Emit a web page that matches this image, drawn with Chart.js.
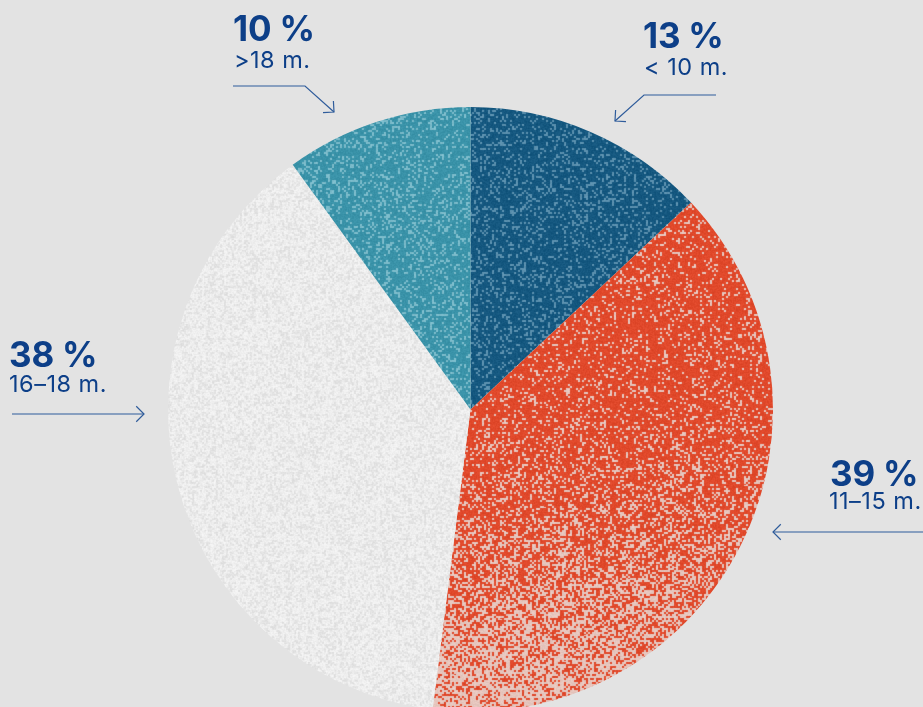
<!DOCTYPE html>
<html>
<head>
<meta charset="utf-8">
<script src="https://cdn.jsdelivr.net/npm/chart.js@4/dist/chart.umd.min.js"></script>
<style>
  html, body { margin:0; padding:0; background:#e3e3e3; }
  #wrap { position:relative; width:923px; height:707px; overflow:hidden; background:#e3e3e3; }
  #myChart { position:absolute; left:0; top:0; }
  .lbl { position:absolute; color:#0d3f88; font-family:"Inter","Liberation Sans",Arial,sans-serif; white-space:nowrap; line-height:1; }
  .pct { font-size:35px; font-weight:700; letter-spacing:-0.2px; }
  .sub { font-size:23.5px; font-weight:400; letter-spacing:0.5px; }
</style>
</head>
<body>
<div id="wrap">
  <canvas id="myChart" width="923" height="720"></canvas>
  <div class="lbl pct" style="left:233px;top:11px;">10 %</div>
  <div class="lbl sub" style="left:234px;top:48px;">&gt;18 m.</div>
  <div class="lbl pct" style="left:643px;top:18px;">13 %</div>
  <div class="lbl sub" style="left:644px;top:55px;">&lt; 10 m.</div>
  <div class="lbl pct" style="left:9px;top:337px;">38 %</div>
  <div class="lbl sub" style="left:9px;top:372px;">16–18 m.</div>
  <div class="lbl pct" style="left:830px;top:456px;">39 %</div>
  <div class="lbl sub" style="left:829px;top:489px;">11–15 m.</div>
</div>
<script>
// slice data, clockwise from 12 o'clock
const labels = ["< 10 m.", "11–15 m.", "16–18 m.", ">18 m."];
const shares = [13, 39, 38, 10];

// leader lines [points...] the last point gets the arrow head
const arrows = [
  [[233,86],[305,86],[334,112]],
  [[716,95],[644,95],[615,121]],
  [[12,414],[144,414]],
  [[923,532],[773,532]]
];

const W = 923, H = 720;

// cheap deterministic hash for grain
function hash(x, y, s) {
  let h = (x * 374761393 + y * 668265263 + s * 2147483647) | 0;
  h = (h ^ (h >>> 13)) * 1274126177 | 0;
  h = h ^ (h >>> 16);
  return (h >>> 0) / 4294967295;
}

function grain(base, light, seed, probFn) {
  const c = document.createElement('canvas');
  c.width = W; c.height = H;
  const g = c.getContext('2d');
  const img = g.createImageData(W, H);
  const d = img.data;
  const raw = new Float32Array(W * H * 3);
  for (let y = 0; y < H; y++) {
    const p = probFn(y);
    for (let x = 0; x < W; x++) {
      const r = hash(x >> 1, y >> 1, seed);
      const j = (hash(x, y, seed + 7) - 0.5) * 16;
      const col = r < p ? light : base;
      const k = (y * W + x) * 3;
      raw[k] = col[0] + j; raw[k+1] = col[1] + j; raw[k+2] = col[2] + j;
    }
  }
  // small soften pass
  for (let y = 0; y < H; y++) {
    for (let x = 0; x < W; x++) {
      const k = (y * W + x) * 3;
      const xl = x > 0 ? k - 3 : k, xr = x < W - 1 ? k + 3 : k;
      const yu = y > 0 ? k - W * 3 : k, yd = y < H - 1 ? k + W * 3 : k;
      const i = (y * W + x) * 4;
      for (let ch = 0; ch < 3; ch++) {
        const v = raw[k+ch] * 0.6 + (raw[xl+ch] + raw[xr+ch] + raw[yu+ch] + raw[yd+ch]) * 0.1;
        d[i+ch] = Math.max(0, Math.min(255, v));
      }
      d[i+3] = 255;
    }
  }
  g.putImageData(img, 0, 0);
  return c;
}

const ctx = document.getElementById('myChart').getContext('2d');

const blueTex = grain([20,87,127], [92,145,175], 1, () => 0.2);
const orangeTex = grain([224,72,42], [230,198,190], 2, (y) => {
  const t = Math.max(0, Math.min(1, (y - 390) / 330));
  return 0.15 + 0.6 * Math.pow(t, 1.3);
});
const greyTex = grain([239,239,239], [226,226,226], 3, () => 0.35);
const tealTex = grain([57,146,168], [125,188,203], 4, () => 0.22);

const colors = [
  ctx.createPattern(blueTex, 'no-repeat'),
  ctx.createPattern(orangeTex, 'no-repeat'),
  ctx.createPattern(greyTex, 'no-repeat'),
  ctx.createPattern(tealTex, 'no-repeat')
];

const arrowPlugin = {
  id: 'arrows',
  afterDraw(chart) {
    const c = chart.ctx;
    c.save();
    c.strokeStyle = '#2f5c9b';
    c.lineWidth = 1.2;
    arrows.forEach(pts => {
      c.beginPath();
      c.moveTo(pts[0][0], pts[0][1]);
      for (let i = 1; i < pts.length; i++) c.lineTo(pts[i][0], pts[i][1]);
      c.stroke();
      const a = pts[pts.length - 2], b = pts[pts.length - 1];
      const ang = Math.atan2(b[1] - a[1], b[0] - a[0]);
      const len = 11;
      c.beginPath();
      c.moveTo(b[0] - len * Math.cos(ang - Math.PI / 4), b[1] - len * Math.sin(ang - Math.PI / 4));
      c.lineTo(b[0], b[1]);
      c.lineTo(b[0] - len * Math.cos(ang + Math.PI / 4), b[1] - len * Math.sin(ang + Math.PI / 4));
      c.stroke();
    });
    c.restore();
  }
};

const data = {
  labels: labels,
  datasets: [{
    data: shares,
    backgroundColor: colors,
    hoverBackgroundColor: colors,
    borderWidth: 0
  }]
};

const config = {
  type: 'pie',
  data: data,
  options: {
    responsive: false,
    animation: false,
    events: [],
    layout: { padding: { left: 168, right: 150, top: 107, bottom: 8 } },
    plugins: {
      legend: { display: false },
      tooltip: { enabled: false },
      title: { display: false }
    }
  },
  plugins: [arrowPlugin]
};

const myChart = new Chart(ctx, config);
</script>
</body>
</html>
